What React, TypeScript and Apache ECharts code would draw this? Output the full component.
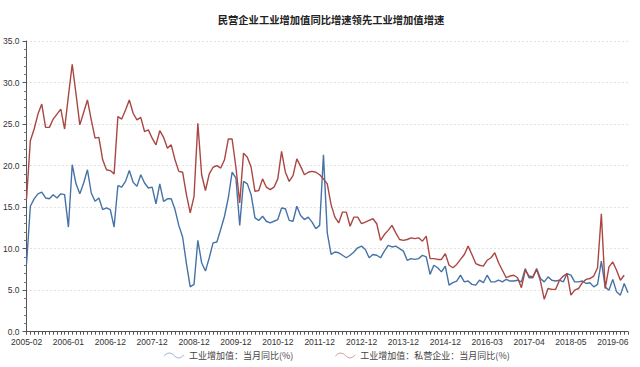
import React, { useEffect, useRef } from "react";
import * as echarts from "echarts";

const monthRange = (year: number, from: number, to: number): string[] => {
  const out: string[] = [];
  for (let m = from; m <= to; m++) out.push(`${year}-${m < 10 ? "0" + m : m}`);
  return out;
};

// Category dates (Jan missing from 2007, Jan–Feb missing from 2015)
const categories: string[] = [
  ...monthRange(2005, 2, 12),
  ...monthRange(2006, 1, 12),
  ...monthRange(2007, 2, 12),
  ...monthRange(2008, 2, 12),
  ...monthRange(2009, 2, 12),
  ...monthRange(2010, 2, 12),
  ...monthRange(2011, 2, 12),
  ...monthRange(2012, 2, 12),
  ...monthRange(2013, 2, 12),
  ...monthRange(2014, 2, 12),
  ...monthRange(2015, 3, 12),
  ...monthRange(2016, 3, 12),
  ...monthRange(2017, 3, 12),
  ...monthRange(2018, 3, 12),
  ...monthRange(2019, 3, 10),
];

const seriesNames = ["工业增加值：当月同比(%)", "工业增加值：私营企业：当月同比(%)"];

const industryYoY: number[] = [
  8.2, 15.1, 16.0, 16.6, 16.8, 16.1, 16.0, 16.5, 16.1, 16.6, 16.5,
  12.6, 20.1, 17.8, 16.6, 17.9, 19.5, 16.7, 15.7, 16.1, 14.7, 14.9, 14.7,
  12.6, 17.6, 17.4, 18.1, 19.4, 18.0, 17.5, 18.9, 17.9, 17.3, 17.4,
  15.4, 17.8, 15.7, 16.0, 16.0, 14.7, 12.8, 11.4, 8.2, 5.4, 5.7,
  11.0, 8.3, 7.3, 8.9, 10.7, 10.8, 12.3, 13.9, 16.1, 19.2, 18.5,
  12.8, 18.1, 17.8, 16.5, 13.7, 13.4, 13.9, 13.3, 13.1, 13.3, 13.5,
  14.9, 14.8, 13.4, 13.3, 15.1, 14.0, 13.5, 13.8, 13.2, 12.4, 12.8,
  21.3, 11.9, 9.3, 9.6, 9.5, 9.2, 8.9, 9.2, 9.6, 10.1, 10.3,
  9.9, 8.9, 9.3, 9.2, 8.9, 9.7, 10.4, 10.2, 10.3, 10.0, 9.7,
  8.6, 8.8, 8.7, 8.8, 9.2, 9.0, 6.9, 8.0, 7.7, 7.2, 7.9,
  5.6, 5.9, 6.1, 6.8, 6.0, 6.1, 5.7, 5.6, 6.2, 5.9,
  6.8, 6.0, 6.0, 6.2, 6.0, 6.3, 6.1, 6.1, 6.2, 6.0,
  7.6, 6.5, 6.5, 7.6, 6.4, 6.0, 6.6, 6.2, 6.1, 6.2,
  6.0, 7.0, 6.8, 6.0, 6.0, 6.1, 5.8, 5.9, 5.4, 5.7,
  8.5, 5.4, 5.0, 6.3, 4.8, 4.4, 5.8, 4.7,
];

const privateYoY: number[] = [
  16.0, 23.0, 24.4, 26.2, 27.4, 24.6, 24.6, 25.6, 26.2, 26.8, 24.4,
  28.4, 32.2, 28.6, 24.9, 26.4, 27.9, 25.5, 23.3, 23.4, 20.7, 19.5, 19.4,
  19.0, 25.9, 25.6, 26.7, 27.9, 26.3, 25.5, 25.8, 24.1, 24.3, 23.3,
  22.5, 24.2, 23.4, 22.1, 22.5, 20.7, 19.3, 19.2, 16.5, 14.3, 16.3,
  25.1, 18.9, 17.0, 19.0, 19.8, 20.0, 19.7, 20.7, 23.2, 23.2, 19.8,
  15.5, 21.5, 21.0, 19.8, 16.9, 17.0, 18.4, 17.4, 17.1, 17.4, 18.4,
  21.7, 19.2, 18.1, 18.8, 20.8, 19.9, 18.9, 19.2, 19.3, 19.2, 18.9,
  18.4, 17.8, 15.3, 13.8, 13.1, 14.4, 14.4, 12.7, 13.8, 13.8, 13.0,
  13.2, 13.4, 13.6, 13.0, 11.0, 11.7, 12.2, 12.8, 11.9, 11.1, 11.0,
  11.1, 11.3, 11.2, 11.3, 10.9, 11.5, 8.8, 8.8, 8.7, 8.7, 9.4,
  8.0, 7.7, 8.1, 8.7, 9.3, 10.3, 9.3, 8.2, 8.0, 7.9,
  8.6, 8.9, 9.5, 8.3, 7.4, 6.5, 6.7, 6.8, 6.5, 5.3,
  7.4, 6.7, 6.6, 7.5, 6.1, 3.9, 5.2, 5.1, 5.1, 6.2,
  6.7, 7.0, 4.4, 5.0, 5.2, 5.9, 6.3, 6.4, 6.7, 7.7,
  14.2, 5.2, 7.8, 8.4, 7.4, 6.2, 6.8,
];

const titleText = "民营企业工业增加值同比增速领先工业增加值增速";
const colors = ["#4572A7", "#AA4643"];
const iconColors = ["#9fb6d6", "#d4a2a1"];
const wave = "path://M0,6 C5,0 10,0 15,5 C20,10 25,10 30,4 L30,5.4 C25,11.4 20,11.4 15,6.4 C10,1.4 5,1.4 0,7.4 Z";

export default function App() {
  const ref = useRef<HTMLDivElement>(null);
  useEffect(() => {
    document.body.style.margin = "0";
    if (!ref.current) return;
    const chart = echarts.init(ref.current, undefined, { renderer: "svg" });
    const font = "'Liberation Sans', Arial, sans-serif";
    chart.setOption({
      animation: false,
      backgroundColor: "#ffffff",
      title: {
        text: titleText,
        left: 326,
        top: 9,
        textAlign: "center",
        textStyle: { fontFamily: "'Noto Sans CJK SC', sans-serif", fontSize: 10.3, fontWeight: "bold", color: "#222" },
      },
      legend: {
        bottom: 2,
        left: 159,
        itemGap: 42,
        itemWidth: 20,
        itemHeight: 9,
        textStyle: { fontFamily: "'Noto Sans CJK SC', sans-serif", fontSize: 9, color: "#444" },
        data: seriesNames.map((n, i) => ({ name: n, icon: wave, itemStyle: { color: iconColors[i] } })),
      },
      grid: { left: 25, right: 12, top: 41, bottom: 35.3, containLabel: false },
      xAxis: {
        type: "category",
        data: categories,
        boundaryGap: false,
        axisLine: { lineStyle: { color: "#555", width: 1 } },
        axisTick: { interval: 0, length: 3, lineStyle: { color: "#555" } },
        axisLabel: { interval: 10, fontSize: 8.5, color: "#333", fontFamily: font, margin: 6 },
        splitLine: { show: false },
      },
      yAxis: {
        type: "value",
        min: 0,
        max: 35,
        interval: 5,
        axisLine: { show: true, lineStyle: { color: "#555", width: 1 } },
        axisTick: { show: true, length: 4, lineStyle: { color: "#555" } },
        minorTick: { show: true, splitNumber: 5, length: 2.5, lineStyle: { color: "#777" } },
        axisLabel: { fontSize: 8.5, color: "#333", fontFamily: font, margin: 7, formatter: (v: number) => v.toFixed(1) },
        splitLine: { show: true, lineStyle: { color: "#c8c8c8", type: [1, 3], width: 1 } },
      },
      series: [
        {
          name: seriesNames[0],
          type: "line",
          data: industryYoY,
          symbol: "none",
          lineStyle: { color: colors[0], width: 1.4 },
          itemStyle: { color: colors[0] },
        },
        {
          name: seriesNames[1],
          type: "line",
          data: privateYoY,
          symbol: "none",
          lineStyle: { color: colors[1], width: 1.4 },
          itemStyle: { color: colors[1] },
        },
      ],
    });
    return () => chart.dispose();
  }, []);
  return <div ref={ref} style={{ width: 640, height: 367 }} />;
}
